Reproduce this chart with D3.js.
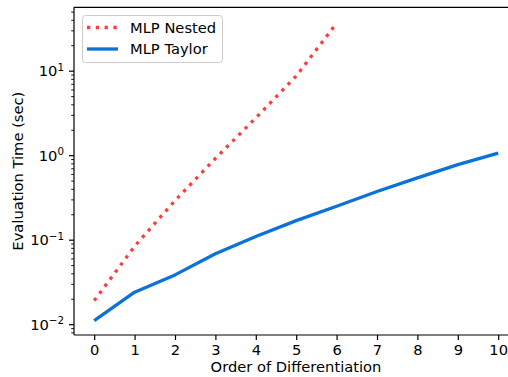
<!DOCTYPE html>
<html><head><meta charset="utf-8">
<script src="https://cdn.jsdelivr.net/npm/d3@7/dist/d3.min.js"></script>
<style>
html,body{margin:0;padding:0;background:#fff;}
text{font-family:"DejaVu Sans",sans-serif;fill:#000;}
</style></head>
<body>
<svg id="chart" width="508" height="377"></svg>
<script>
const orders = [0,1,2,3,4,5,6,7,8,9,10];
const nestedOrders = [0,1,2,3,4,5,6];
const nestedTimes = [0.019,0.0835,0.29,0.914,2.76,8.65,36.4];
const taylorTimes = [0.011,0.0239,0.0383,0.068,0.109,0.168,0.249,0.371,0.538,0.774,1.06];
const xTicks = [0,1,2,3,4,5,6,7,8,9,10];
const yTickExps = [-2,-1,0,1];
const seriesNames = ["MLP Nested","MLP Taylor"];
const colors = {nested:"#ff3b3b", taylor:"#0b72d8"};

(function(){
const svg = d3.select("#chart");
const FS = 14.7;
const pLeft = 74, pRight = 518.4, pTop = 7.3, pBottom = 335;

const x = d3.scaleLinear().domain([-0.5,10.5]).range([pLeft,pRight]);
const y = d3.scaleLog().domain([Math.pow(10,-2.128), Math.pow(10,1.750)]).range([pBottom, pTop]);

// lines
const line = d3.line().x((d)=>x(d[0])).y((d)=>y(d[1]));
svg.append("path")
  .datum(nestedOrders.map((o,i)=>[o,nestedTimes[i]]))
  .attr("d", line).attr("fill","none")
  .attr("stroke", colors.nested).attr("stroke-width",3.3)
  .attr("stroke-dasharray","3.3,5.5");
svg.append("path")
  .datum(orders.map((o,i)=>[o,taylorTimes[i]]))
  .attr("d", line).attr("fill","none")
  .attr("stroke", colors.taylor).attr("stroke-width",3.3)
  .attr("stroke-linejoin","round");

// spines
svg.append("line").attr("x1",pLeft).attr("x2",pLeft).attr("y1",pTop).attr("y2",pBottom)
  .attr("stroke","#000").attr("stroke-width",1.2);
svg.append("line").attr("x1",pLeft).attr("x2",pRight).attr("y1",pBottom).attr("y2",pBottom)
  .attr("stroke","#000").attr("stroke-width",1.2);
svg.append("line").attr("x1",pLeft).attr("x2",pRight).attr("y1",pTop).attr("y2",pTop)
  .attr("stroke","#000").attr("stroke-width",1.2);

// x axis
const xAxis = d3.axisBottom(x).tickValues(xTicks).tickSize(5).tickPadding(5).tickFormat(d3.format("d"));
const gx = svg.append("g").attr("transform",`translate(0,${pBottom})`).call(xAxis);
gx.select(".domain").remove();
gx.selectAll(".tick line").attr("stroke","#000").attr("stroke-width",1.2);
gx.selectAll(".tick text").style("font-size",FS+"px").style("font-family","DejaVu Sans").attr("fill","#000");

// y axis: major
const majors = yTickExps.map(e=>Math.pow(10,e));
const yAxis = d3.axisLeft(y).tickValues(majors).tickSize(5).tickPadding(5).tickFormat(()=>"");
const gy = svg.append("g").attr("transform",`translate(${pLeft},0)`).call(yAxis);
gy.select(".domain").remove();
gy.selectAll(".tick line").attr("stroke","#000").attr("stroke-width",1.2);
gy.selectAll(".tick text").each(function(d){
  const t = d3.select(this);
  const e = Math.round(Math.log10(d));
  t.text(null).style("font-size",FS+"px").style("font-family","DejaVu Sans").attr("dy","0.36em");
  t.append("tspan").text("10");
  t.append("tspan").attr("dy","-0.55em").style("font-size",(FS*0.7)+"px").text(e<0?"\u2212"+(-e):String(e));
});
// minor ticks
const minors = [];
for (let e=-3;e<=1;e++) for (let m=2;m<=9;m++){ const v=m*Math.pow(10,e); const [a,b]=y.domain(); if(v>=a&&v<=b) minors.push(v); }
const gym = svg.append("g").attr("transform",`translate(${pLeft},0)`)
  .call(d3.axisLeft(y).tickValues(minors).tickSize(2.8).tickFormat(()=>""));
gym.select(".domain").remove();
gym.selectAll(".tick line").attr("stroke","#000").attr("stroke-width",0.9);

// axis labels
svg.append("text").attr("x",296).attr("y",372).attr("text-anchor","middle")
  .style("font-size",FS+"px").text("Order of Differentiation");
svg.append("text").attr("transform",`translate(23,${(pTop+pBottom)/2}) rotate(-90)`).attr("text-anchor","middle")
  .style("font-size",FS+"px").text("Evaluation Time (sec)");

// legend
const lg = svg.append("g");
lg.append("rect").attr("x",82.5).attr("y",15.5).attr("width",140).attr("height",47).attr("rx",3)
  .attr("fill","#fff").attr("fill-opacity",0.8).attr("stroke","#cccccc").attr("stroke-width",1);
const items = [{name:seriesNames[0],color:colors.nested,dash:"3.3,5.5",yy:27.5},{name:seriesNames[1],color:colors.taylor,dash:null,yy:49}];
items.forEach(it=>{
  const l = lg.append("line").attr("x1",87).attr("x2",118).attr("y1",it.yy).attr("y2",it.yy)
    .attr("stroke",it.color).attr("stroke-width",3.3);
  if(it.dash) l.attr("stroke-dasharray",it.dash);
  lg.append("text").attr("x",130).attr("y",it.yy).attr("dy","0.36em").style("font-size",FS+"px").text(it.name);
});
})();
</script>
</body></html>
